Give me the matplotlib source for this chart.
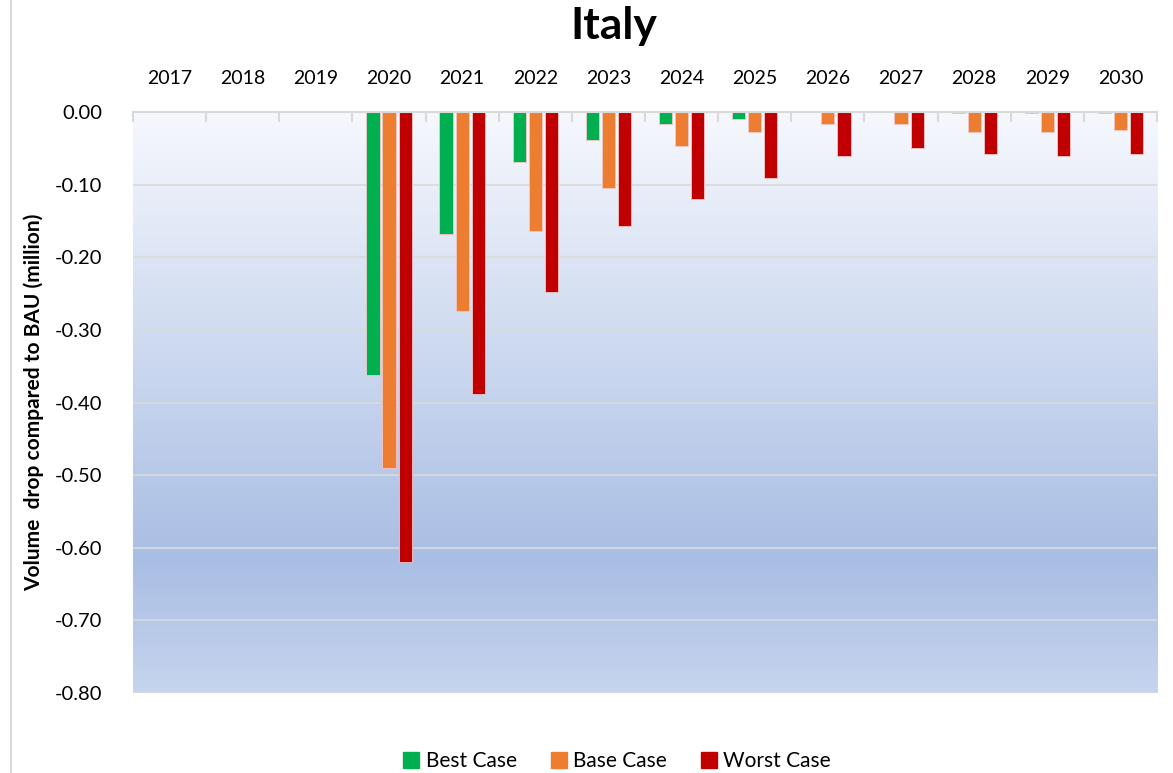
import numpy as np
import matplotlib
matplotlib.use("Agg")
import matplotlib.pyplot as plt
from matplotlib.colors import LinearSegmentedColormap
from matplotlib.lines import Line2D

plt.rcParams['font.family'] = ['Lato', 'DejaVu Sans']

years = ['2017', '2018', '2019', '2020', '2021', '2022', '2023',
         '2024', '2025', '2026', '2027', '2028', '2029', '2030']
best_case = [0, 0, 0, -0.362, -0.168, -0.069, -0.039, -0.017, -0.010,
             0.001, 0.001, -0.002, -0.002, -0.002]
base_case = [0, 0, 0, -0.490, -0.274, -0.164, -0.105, -0.047, -0.028,
             -0.017, -0.017, -0.028, -0.028, -0.025]
worst_case = [0, 0, 0, -0.620, -0.388, -0.248, -0.157, -0.120, -0.091,
              -0.061, -0.050, -0.058, -0.061, -0.058]
series_names = ['Best Case', 'Base Case', 'Worst Case']
series_colors = ['#00B050', '#ED7D31', '#C00000']

fig = plt.figure(figsize=(11.73, 7.73), dpi=100)
ax = fig.add_axes([0.1134, 0.1035, 0.873, 0.7516])

x = np.arange(len(years))
width = 0.18
offsets = [-0.22, 0.0, 0.22]
for vals, off, col in zip([best_case, base_case, worst_case], offsets, series_colors):
    ax.bar(x + off, vals, width, color=col, edgecolor='#F0C8C8', linewidth=0.6, zorder=3)

ax.set_xlim(-0.5, len(years) - 0.5)
ax.set_ylim(-0.8, 0.0)

# gradient background
cmap = LinearSegmentedColormap.from_list(
    'bg', [(0.0, '#F6F8FD'), (0.77, '#A9BEE4'), (1.0, '#C6D4EE')])
grad = np.linspace(0, 1, 256).reshape(-1, 1)
ax.imshow(grad, cmap=cmap, aspect='auto', extent=[-0.5, len(years) - 0.5, -0.8, 0.0],
          origin='upper', zorder=0)

yticks = np.round(np.arange(-0.8, 0.01, 0.1), 2)
ax.set_yticks(yticks)
ax.set_yticklabels(['%.2f' % abs(v) if v == 0 else '%.2f' % v for v in yticks], fontsize=14.5)
ax.yaxis.grid(True, color='#D9D9D9', linewidth=1.2, zorder=1)
ax.tick_params(axis='y', length=0, pad=22)

ax.xaxis.tick_top()
ax.set_xticks(x)
ax.set_xticklabels(years, fontsize=14)
ax.tick_params(axis='x', which='major', length=0, pad=18)
ax.set_xticks(np.arange(-0.5, len(years), 1.0), minor=True)
ax.tick_params(axis='x', which='minor', direction='in', length=7, width=1.5,
               color='#D9D9D9', top=True, bottom=False)

for side in ['left', 'right', 'bottom']:
    ax.spines[side].set_visible(False)
ax.spines['top'].set_color('#D9D9D9')
ax.spines['top'].set_linewidth(1.5)
ax.spines['top'].set_zorder(4)

ax.set_ylabel('Volume  drop compared to BAU (million)', fontsize=15,
              fontweight='bold', labelpad=8)

fig.text(0.523, 0.967, 'Italy', ha='center', va='center', fontsize=32, fontweight='bold')

handles = [Line2D([0], [0], marker='s', color='none', markerfacecolor=c,
                  markeredgecolor=c, markersize=11) for c in series_colors]
fig.legend(handles, series_names, loc='center', bbox_to_anchor=(0.525, 0.015),
           ncol=3, frameon=False, fontsize=15, handletextpad=0.2, columnspacing=1.5,
           handlelength=1.0)

fig.add_artist(Line2D([0.0094, 0.0094], [0, 1], color='#D9D9D9', linewidth=1.5))

fig.savefig('out.png', dpi=100)
